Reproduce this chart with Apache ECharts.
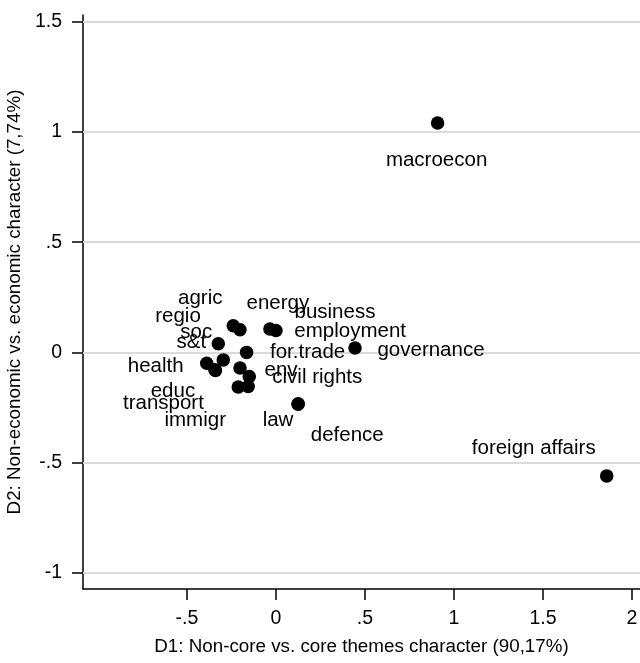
<!DOCTYPE html>
<html>
<head>
<meta charset="utf-8">
<script src="https://cdn.jsdelivr.net/npm/echarts@6/dist/echarts.min.js"></script>
<style>
html,body{margin:0;padding:0;background:#fff;}
#chart{width:640px;height:663px;}
</style>
</head>
<body>
<div id="chart"></div>
<script>
// ---- data ----
const topics = ["agric","regio","soc","s&t","health","educ","transport","immigr","env","civil rights","employment","energy","business","for.trade","law","defence","governance","macroecon","foreign affairs"];
const d1 = [-0.240,-0.202,-0.324,-0.296,-0.389,-0.343,-0.340,-0.212,-0.202,-0.150,-0.156,-0.034,0.000,-0.165,0.124,0.125,0.444,0.908,1.858];
const d2 = [0.121,0.103,0.039,-0.034,-0.049,-0.079,-0.082,-0.157,-0.071,-0.109,-0.155,0.106,0.099,0.000,-0.235,-0.233,0.020,1.040,-0.560];
const xTicks = [-0.5,0,0.5,1,1.5,2];
const yTicks = [-1,-0.5,0,0.5,1,1.5];
const xTitle = "D1: Non-core vs. core themes character (90,17%)";
const yTitle = "D2: Non-economic vs. economic character (7,74%)";

// ---- style: label offsets (px) relative to each marker ----
const labelOffsets = [[-33,-27],[-62,-13],[-22,-11],[-32,-18],[-51,3],[-42,22],[-52,33],[-43,33],[41,2],[68,1],[102,-55],[8,-26],[59,-18],[61,0],[-20,16],[49,32],[76,2],[-1,37],[-73,-28]];

const FONT = "'Liberation Sans', Arial, Helvetica, sans-serif";
const fmt = v => { if (v === 0) return "0"; let s = String(v); return s.replace(/^(-?)0\./, "$1."); };

const points = topics.map((t,i)=>({
  name: t,
  value: [d1[i], d2[i]],
  label: {show:true, position:'inside', offset: labelOffsets[i], formatter: t,
          color:'#000', opacity:1, textBorderWidth:0, fontFamily: FONT, fontSize: 20.5,
          align:'center', verticalAlign:'middle'}
}));

const chart = echarts.init(document.getElementById('chart'), null, {renderer:'canvas'});
chart.setOption({
  backgroundColor:'#fff',
  animation:false,
  grid:{left:83, right:0, top:15, bottom:74, containLabel:false, outerBoundsMode:'none'},
  xAxis:{
    type:'value', min:-1.084, max:2.045,
    name:xTitle, nameLocation:'middle', nameGap:48,
    nameTextStyle:{color:'#000', fontFamily:FONT, fontSize:18.8},
    axisLine:{show:true, onZero:false, lineStyle:{color:'#000', width:1.5}},
    axisTick:{show:true, length:11, lineStyle:{color:'#000', width:1.5}, customValues:xTicks},
    axisLabel:{color:'#000', fontFamily:FONT, fontSize:19.5, margin:20, customValues:xTicks, formatter:fmt},
    splitLine:{show:false}
  },
  yAxis:{
    type:'value', min:-1.073, max:1.53,
    name:yTitle, nameLocation:'middle', nameGap:50, nameRotate:90,
    nameTextStyle:{color:'#000', fontFamily:FONT, fontSize:18.8},
    axisLine:{show:true, onZero:false, lineStyle:{color:'#000', width:1.5}},
    axisTick:{show:true, length:11, lineStyle:{color:'#000', width:1.5}, customValues:yTicks},
    axisLabel:{color:'#000', fontFamily:FONT, fontSize:19.5, margin:21, customValues:yTicks, formatter:fmt},
    splitLine:{show:false}
  },
  series:[{
    type:'line', data:[], silent:true, z:1,
    markLine:{
      silent:true, symbol:['none','none'], z:1,
      label:{show:false},
      lineStyle:{color:'#dadada', width:2, type:'solid'},
      data: yTicks.map(v=>({yAxis:v}))
    }
  },{
    type:'scatter',
    symbol:'circle', symbolSize:13.5,
    itemStyle:{color:'#000', opacity:1},
    emphasis:{disabled:true},
    data:points,
    z:5
  }]
});
</script>
</body>
</html>
